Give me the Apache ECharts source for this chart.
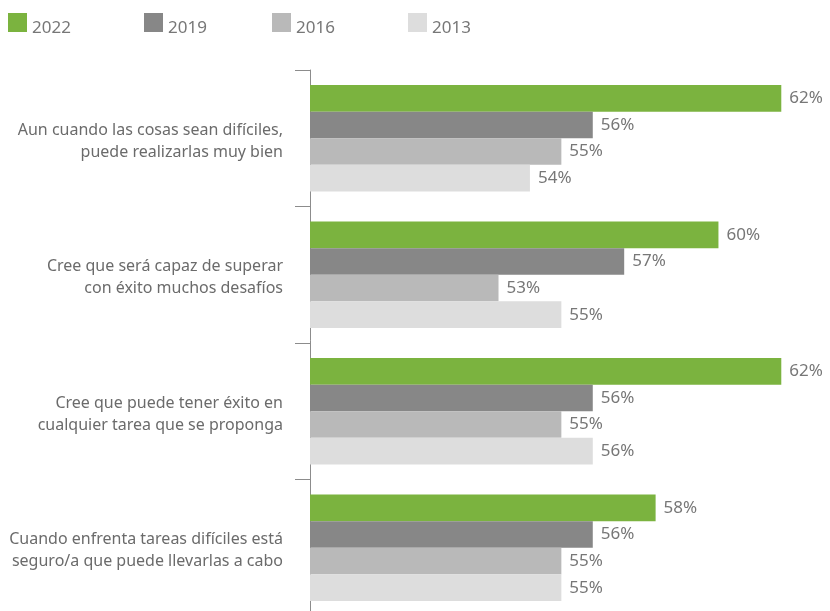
<!DOCTYPE html>
<html>
<head>
<meta charset="utf-8">
<script src="https://cdn.jsdelivr.net/npm/echarts@6/dist/echarts.min.js"></script>
<style>
  html, body { margin: 0; padding: 0; background: #fff; }
  #chart { width: 830px; height: 611px; }
</style>
</head>
<body>
<div id="chart"></div>
<script>
// Statements about self-efficacy, share agreeing per survey year (%)
const categories = [
  'Aun cuando las cosas sean difíciles,\npuede realizarlas muy bien',
  'Cree que será capaz de superar\ncon éxito muchos desafíos',
  'Cree que puede tener éxito en\ncualquier tarea que se proponga',
  'Cuando enfrenta tareas difíciles está\nseguro/a que puede llevarlas a cabo'
];
const years = ['2022', '2019', '2016', '2013'];
const values2022 = [62, 60, 62, 58];
const values2019 = [56, 57, 56, 56];
const values2016 = [55, 53, 55, 55];
const values2013 = [54, 55, 56, 55];

const seriesValues = [values2022, values2019, values2016, values2013];
const colors = ['#7bb33f', '#878787', '#b9b9b9', '#dddddd'];
const font = '"Noto Sans", "Open Sans", sans-serif';

const legendLeft = [8, 144, 272, 408];

const chart = echarts.init(document.getElementById('chart'), null, { renderer: 'canvas' });

chart.setOption({
  animation: false,
  textStyle: { fontFamily: font },
  legend: years.map((y, i) => ({
    data: [y],
    left: legendLeft[i],
    top: 13,
    padding: 0,
    itemWidth: 19,
    itemHeight: 19,
    itemGap: 5,
    icon: 'rect',
    selectedMode: false,
    formatter: '{y|{name}}',
    textStyle: {
      fontFamily: font,
      fontSize: 17,
      color: '#777777',
      rich: {
        y: { fontFamily: font, fontSize: 17, color: '#777777', padding: [11, 0, 0, 0] }
      }
    }
  })),
  grid: {
    left: 310, right: 33, top: 70, height: 546,
    containLabel: false,
    outerBoundsMode: 'none'
  },
  xAxis: {
    type: 'value',
    min: 47,
    max: 62.5,
    show: false
  },
  yAxis: {
    type: 'category',
    data: categories,
    inverse: true,
    axisLine: { show: true, lineStyle: { color: '#8c8c8c', width: 1 } },
    axisTick: { show: true, length: 15, lineStyle: { color: '#8c8c8c', width: 1 } },
    axisLabel: {
      fontFamily: font,
      fontSize: 16,
      lineHeight: 22,
      color: '#6b6b6b',
      margin: 27,
      align: 'right',
      // a thin spacer line above the two text lines nudges the block down a little
      formatter: (v) => '{sp| }\n' + v.split('\n').map((l) => '{t|' + l + '}').join('\n'),
      rich: {
        sp: { fontSize: 4, lineHeight: 6 },
        t: { fontFamily: font, fontSize: 16, lineHeight: 22, color: '#6b6b6b' }
      }
    },
    splitLine: { show: false }
  },
  series: years.map((y, i) => ({
    name: y,
    type: 'bar',
    data: seriesValues[i],
    barGap: '0%',
    barCategoryGap: '22%',
    itemStyle: { color: colors[i] },
    label: {
      show: true,
      position: 'right',
      distance: 8,
      formatter: '{c}%',
      fontFamily: font,
      fontSize: 17,
      color: '#777777'
    }
  }))
});
</script>
</body>
</html>
